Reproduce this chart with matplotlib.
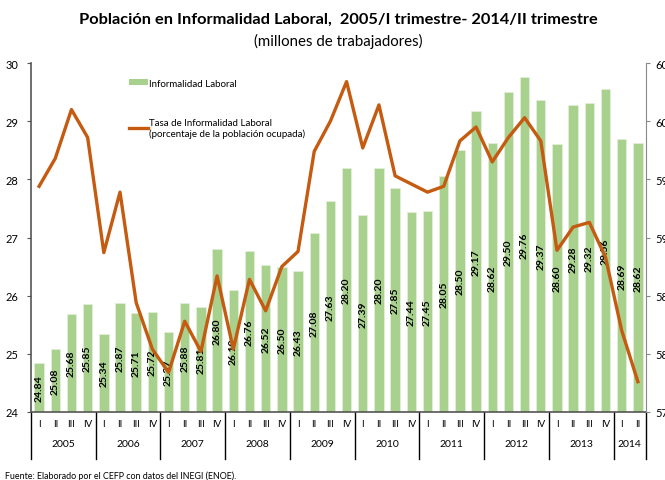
import matplotlib.pyplot as plt
from matplotlib.lines import Line2D
from matplotlib.patches import Patch

# Data (2005/I - 2014/II)
years = ["2005", "2006", "2007", "2008", "2009", "2010", "2011", "2012", "2013", "2014"]
quarters_per_year = [4, 4, 4, 4, 4, 4, 4, 4, 4, 2]
quarter_names = ["I", "II", "III", "IV"]

# millones de trabajadores (bars, left axis)
informal_workers = [
    24.84, 25.08, 25.68, 25.85,
    25.34, 25.87, 25.71, 25.72,
    25.37, 25.88, 25.81, 26.80,
    26.10, 26.76, 26.52, 26.50,
    26.43, 27.08, 27.63, 28.20,
    27.39, 28.20, 27.85, 27.44,
    27.45, 28.05, 28.50, 29.17,
    28.62, 29.50, 29.76, 29.37,
    28.60, 29.28, 29.32, 29.56,
    28.69, 28.62,
]

# tasa de informalidad, % de la poblacion ocupada (line, right axis)
informal_rate = [
    59.44, 59.68, 60.10, 59.86,
    58.87, 59.39, 58.44, 58.04,
    57.84, 58.28, 58.02, 58.67,
    58.04, 58.64, 58.37, 58.75,
    58.88, 59.74, 60.00, 60.34,
    59.77, 60.14, 59.53, 59.46,
    59.39, 59.44, 59.83, 59.95,
    59.65, 59.86, 60.03, 59.83,
    58.89, 59.09, 59.13, 58.83,
    58.20, 57.76,
]

plt.rcParams["font.family"] = ["Lato", "DejaVu Sans"]

quarter_labels = []
for n in quarters_per_year:
    quarter_labels += quarter_names[:n]
x = list(range(len(informal_workers)))

fig = plt.figure(figsize=(6.65, 4.81), dpi=100)
ax = fig.add_axes([0.0466, 0.1414, 0.9248, 0.7255])

# Bars
bars = ax.bar(x, informal_workers, width=0.58, color="#a9d18e",
              edgecolor="#e2efd9", linewidth=0.6, zorder=2)
ax.bar_label(bars, labels=[f"{v:.2f}" for v in informal_workers],
             label_type="center", rotation=90, fontsize=7.5,
             fontweight="bold", color="black")

ax.set_xlim(-0.5, len(x) - 0.5)
ax.set_ylim(24, 30)
ax.set_yticks(range(24, 31))
ax.tick_params(axis="y", labelsize=8, length=3, color="#555555", pad=6)
ax.set_xticks(x)
ax.set_xticklabels(quarter_labels, fontsize=7)
ax.tick_params(axis="x", length=0, pad=5)
ax.spines["top"].set_visible(False)
ax.spines["right"].set_visible(False)
for side in ["left", "bottom"]:
    ax.spines[side].set_color("#555555")
    ax.spines[side].set_linewidth(1.2)

# Year labels and separators below the axis
trans = ax.get_xaxis_transform()
start = 0
for year, n in zip(years, quarters_per_year):
    ax.text(start + (n - 1) / 2, -0.09, year, transform=trans,
            ha="center", va="center", fontsize=7.5)
    ax.plot([start - 0.5, start - 0.5], [0, -0.135], transform=trans,
            color="black", linewidth=1, clip_on=False)
    start += n
ax.plot([start - 0.5, start - 0.5], [0, -0.135], transform=trans,
        color="black", linewidth=1, clip_on=False)

# Line on the right axis (its tick labels run off the right edge, as in the original)
ax2 = ax.twinx()
ax2.plot(x, informal_rate, color="#c55a11", linewidth=2.4, zorder=3)
ax2.set_ylim(57.5, 60.5)
ax2.set_yticks([57.5, 58.0, 58.5, 59.0, 59.5, 60.0, 60.5])
ax2.set_yticklabels([f"{v:.1f}" for v in ax2.get_yticks()])
ax2.tick_params(axis="y", labelsize=8, length=3, color="#888888", pad=4)
ax2.spines["top"].set_visible(False)
ax2.spines["left"].set_visible(False)
ax2.spines["bottom"].set_visible(False)
ax2.spines["right"].set_color("#888888")

# Legend
handles = [Patch(facecolor="#a9d18e", edgecolor="none"),
           Line2D([0], [0], color="#c55a11", linewidth=2.4)]
labels = ["Informalidad Laboral",
          "Tasa de Informalidad Laboral\n(porcentaje de la población ocupada)"]
ax.legend(handles, labels, loc="upper left", bbox_to_anchor=(0.145, 0.98),
          frameon=False, fontsize=7, handlelength=2.0, handleheight=0.6,
          handletextpad=0.1, labelspacing=3.1)

# Titles and source
fig.text(0.509, 0.958, "Población en Informalidad Laboral,  2005/I trimestre- 2014/II trimestre",
         ha="center", va="center", fontsize=11.8, fontweight="bold")
fig.text(0.509, 0.913, "(millones de trabajadores)", ha="center", va="center",
         fontsize=10.8)
fig.text(0.008, 0.0104, "Fuente: Elaborado por el CEFP con datos del INEGI (ENOE).",
         ha="left", va="center", fontsize=6.4)

plt.savefig("out.png", dpi=100)
